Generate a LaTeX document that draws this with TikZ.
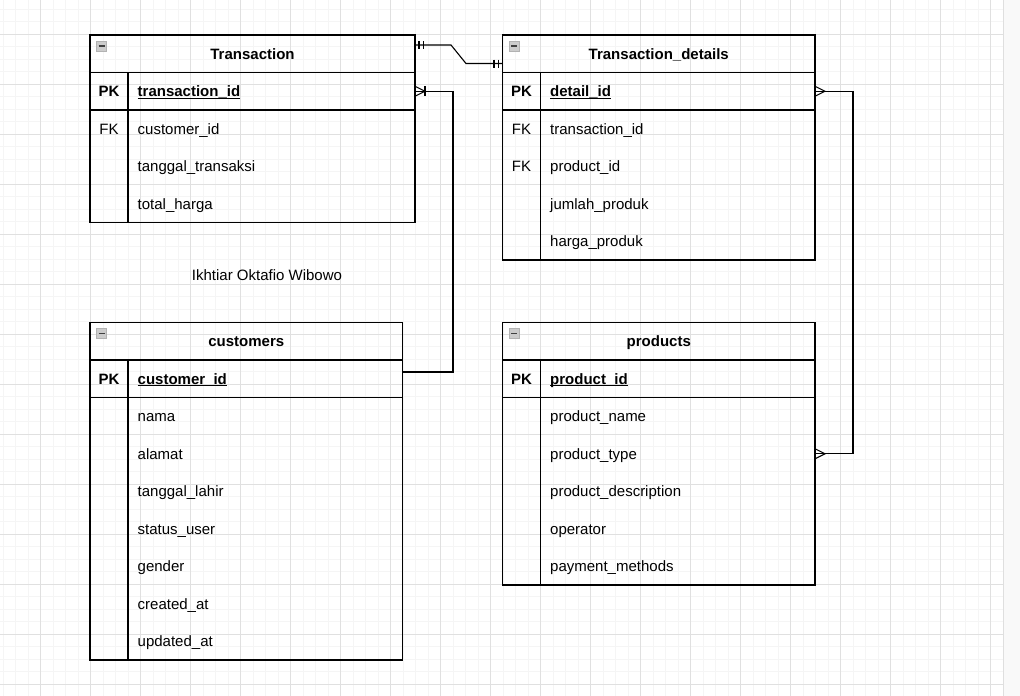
\documentclass[tikz,border=0pt]{standalone}
\usepackage{fontspec}
\setmainfont{Liberation Sans}
\usepackage{tikz}

\newcommand\erfont{\fontsize{15}{18}\selectfont}
\newcommand\keyname[1]{\underline{\smash{#1}}}

\begin{document}
\begin{tikzpicture}[x=1pt, y=-1pt,
  every node/.style={font=\erfont, inner sep=0pt, text height=13.5pt, text depth=3pt},
  minor/.style={gray!8, line width=1pt},
  major/.style={gray!24, line width=1pt},
  tbl/.style={line width=1.1pt},
  hdr/.style={draw, line width=1.1pt, outer sep=0pt, minimum height=37.5pt, font=\erfont\bfseries},
  keyrow/.style={draw, line width=1.1pt, outer sep=0pt, minimum height=37.5pt},
  fld/.style={anchor=west},
  conn/.style={line width=1.1pt},
  icon/.style={draw=gray!60, fill=gray!40, line width=1pt}]
\useasboundingbox (0,0) rectangle (1020,696);

% grid
\foreach \k in {0,...,79} \draw[minor] (3.2+12.5*\k,0) -- (3.2+12.5*\k,696);
\foreach \k in {0,...,55} \draw[minor] (0,9+12.5*\k) -- (1003,9+12.5*\k);
\foreach \k in {0,...,19} \draw[major] (40.7+50*\k,0) -- (40.7+50*\k,696);
\foreach \k in {0,...,13} \draw[major] (0,34+50*\k) -- (1003,34+50*\k);
\fill[gray!5] (1003,0) rectangle (1020,696);
\draw[gray!25] (1003,0) -- (1003,696);

% Transaction
\node[hdr, minimum width=325pt] (tHead) at (252.5,53.75) {Transaction};
\node[keyrow, minimum width=325pt] (tPK) at (252.5,91.25) {};
\draw[tbl] (90,110) rectangle (415,222.5) (128,72.5) -- (128,222.5);
\node (tKey) at (109,91.25) {\bfseries PK};
\node[fld] (tId) at (137.5,91.25) {\bfseries\keyname{transaction\_id}};
\node (tFK) at (109,128.75) {FK};
\foreach \f [count=\i] in {customer\_id, tanggal\_transaksi, total\_harga}
  \node[fld] (t\i) at (137.5,91.25+37.5*\i) {\f};

% Transaction_details
\node[hdr, minimum width=312.5pt] (dHead) at (658.75,53.75) {Transaction\_details};
\node[keyrow, minimum width=312.5pt] (dPK) at (658.75,91.25) {};
\draw[tbl] (502.5,110) rectangle (815,260) (540.5,72.5) -- (540.5,260);
\node (dKey) at (521.5,91.25) {\bfseries PK};
\node[fld] (dId) at (550,91.25) {\bfseries\keyname{detail\_id}};
\node (dFK1) at (521.5,128.75) {FK};
\node (dFK2) at (521.5,166.25) {FK};
\foreach \f [count=\i] in {transaction\_id, product\_id, jumlah\_produk, harga\_produk}
  \node[fld] (d\i) at (550,91.25+37.5*\i) {\f};

% customers
\node[hdr, minimum width=312.5pt] (cHead) at (246.25,341.25) {customers};
\node[keyrow, minimum width=312.5pt] (cPK) at (246.25,378.75) {};
\draw[tbl] (90,397.5) rectangle (402.5,660) (128,360) -- (128,660);
\node (cKey) at (109,378.75) {\bfseries PK};
\node[fld] (cId) at (137.5,378.75) {\bfseries\keyname{customer\_id}};
\foreach \f [count=\i] in {nama, alamat, tanggal\_lahir, status\_user, gender, created\_at, updated\_at}
  \node[fld] (c\i) at (137.5,378.75+37.5*\i) {\f};

% products
\node[hdr, minimum width=312.5pt] (pHead) at (658.75,341.25) {products};
\node[keyrow, minimum width=312.5pt] (pPK) at (658.75,378.75) {};
\draw[tbl] (502.5,397.5) rectangle (815,585) (540.5,360) -- (540.5,585);
\node (pKey) at (521.5,378.75) {\bfseries PK};
\node[fld] (pId) at (550,378.75) {\bfseries\keyname{product\_id}};
\foreach \f [count=\i] in {product\_name, product\_type, product\_description, operator, payment\_methods}
  \node[fld] (p\i) at (550,378.75+37.5*\i) {\f};

% header icons
\foreach \x/\y in {90/35, 502.5/35, 90/322.5, 502.5/322.5} {
  \draw[icon] (\x+6.5,\y+6) rectangle ++(10,10);
  \draw[line width=1.8pt, black!75] (\x+8.5,\y+11) -- ++(6,0);
}

\node (author) at (267,275.5) {Ikhtiar Oktafio Wibowo};

% Transaction -- Transaction_details (one to one)
\coordinate (tOut) at ([yshift=8.75pt]tHead.east);
\coordinate (dIn) at ([yshift=-9.75pt]dHead.west);
\draw[conn] (tOut) -- ++(36,0) -- ++(15,18.5) -- (dIn);
\draw[conn] ([xshift=4pt,yshift=4pt]tOut) -- ([xshift=4pt,yshift=-4pt]tOut);
\draw[conn] ([xshift=8.5pt,yshift=4pt]tOut) -- ([xshift=8.5pt,yshift=-4pt]tOut);
\draw[conn] ([xshift=-4pt,yshift=4pt]dIn) -- ([xshift=-4pt,yshift=-4pt]dIn);
\draw[conn] ([xshift=-8.5pt,yshift=4pt]dIn) -- ([xshift=-8.5pt,yshift=-4pt]dIn);

% Transaction -- customers (one or many)
\draw[conn] (tPK.east) -- ++(38,0) |- ([yshift=6.75pt]cPK.east);
\draw[conn] ([yshift=5pt]tPK.east) -- ([xshift=10pt]tPK.east) -- ([yshift=-5pt]tPK.east);
\draw[conn] ([xshift=10pt,yshift=5pt]tPK.east) -- ([xshift=10pt,yshift=-5pt]tPK.east);

% Transaction_details -- products (many to many)
\coordinate (pEnd) at (pPK.east |- p2.west);
\draw[conn] (dPK.east) -- ++(38,0) |- (pEnd);
\draw[conn] ([yshift=5pt]dPK.east) -- ([xshift=10pt]dPK.east) -- ([yshift=-5pt]dPK.east);
\draw[conn] ([yshift=5pt]pEnd) -- ([xshift=10pt]pEnd) -- ([yshift=-5pt]pEnd);
\end{tikzpicture}
\end{document}
